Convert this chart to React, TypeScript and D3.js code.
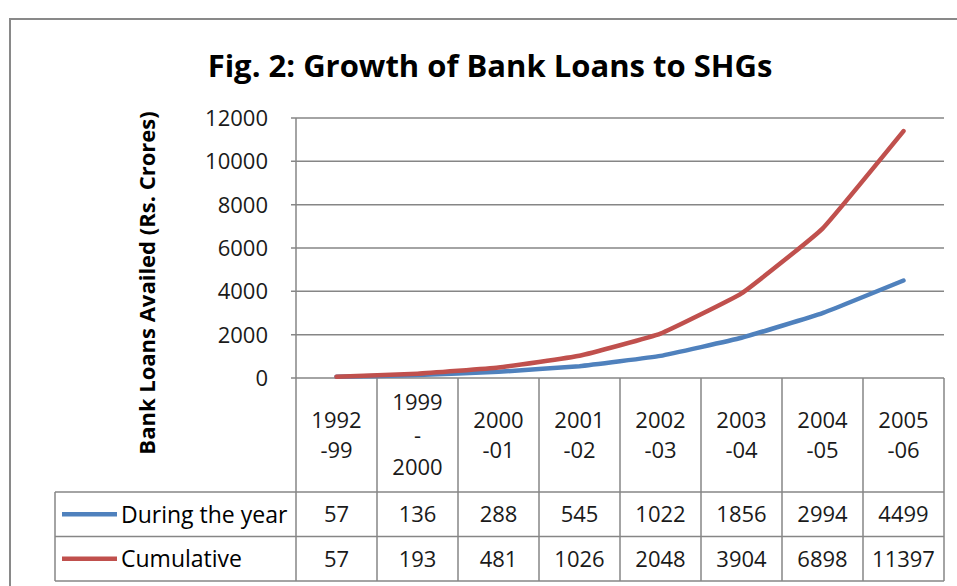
import React from "react";
import * as d3 from "d3";

const categories = ["1992-99", "1999-2000", "2000-01", "2001-02", "2002-03", "2003-04", "2004-05", "2005-06"];
const categoryLines = [
  ["1992", "-99"],
  ["1999", "-", "2000"],
  ["2000", "-01"],
  ["2001", "-02"],
  ["2002", "-03"],
  ["2003", "-04"],
  ["2004", "-05"],
  ["2005", "-06"],
];
const duringYear = [57, 136, 288, 545, 1022, 1856, 2994, 4499];
const cumulative = [57, 193, 481, 1026, 2048, 3904, 6898, 11397];
const yTicks = [0, 2000, 4000, 6000, 8000, 10000, 12000];
const seriesNames = ["During the year", "Cumulative"];
const seriesColors = ["#4F81BD", "#C0504D"];

const W = 957;
const H = 586;
const FONT = "'Open Sans', 'DejaVu Sans', sans-serif";

export default function App() {
  const plotLeft = 296;
  const plotRight = 944;
  const plotTop = 118;
  const plotBottom = 378;
  const tableLeft = 55;
  const headerBottom = 492;
  const row1Bottom = 536.5;
  const row2Bottom = 581;

  const x = d3.scaleBand<string>().domain(categories).range([plotLeft, plotRight]);
  const y = d3.scaleLinear().domain([0, 12000]).range([plotBottom, plotTop]);

  const line = d3
    .line<number>()
    .x((_, i) => (x(categories[i]) as number) + x.bandwidth() / 2)
    .y((d) => y(d))
    .curve(d3.curveCardinal.tension(0.7));

  const series = [duringYear, cumulative];
  const grid = "#868686";
  const rowsY = [headerBottom, row1Bottom, row2Bottom];

  return (
    <svg
      width={W}
      height={H}
      style={{ position: "absolute", left: 0, top: 0, background: "#fff" }}
      fontFamily={FONT}
    >
      <rect x={0} y={0} width={W} height={H} fill="#fff" />
      {/* outer chart border */}
      <rect x={10} y={19} width={W + 20} height={H + 20} fill="none" stroke="#898989" strokeWidth={2} />

      {/* title */}
      <text x={490} y={77} textAnchor="middle" fontSize={31} fontWeight="bold" fill="#000">
        Fig. 2: Growth of Bank Loans to SHGs
      </text>

      {/* y axis label */}
      <text
        transform={`translate(155,${283}) rotate(-90)`}
        textAnchor="middle"
        fontSize={22}
        fontWeight="bold"
        fill="#000"
      >
        Bank Loans Availed (Rs. Crores)
      </text>

      {/* gridlines and ticks */}
      {yTicks.map((t) => (
        <g key={t}>
          <line x1={plotLeft - 5} x2={plotRight} y1={y(t)} y2={y(t)} stroke={grid} strokeWidth={1.5} />
          <text x={268} y={y(t)} dy="0.36em" textAnchor="end" fontSize={22} fill="#1a1a1a">
            {t}
          </text>
        </g>
      ))}

      {/* vertical axis and table column lines */}
      <line x1={plotLeft} x2={plotLeft} y1={plotTop} y2={row2Bottom} stroke={grid} strokeWidth={1.5} />
      {categories.map((c) => {
        const xr = (x(c) as number) + x.bandwidth();
        return <line key={c} x1={xr} x2={xr} y1={plotBottom} y2={row2Bottom} stroke={grid} strokeWidth={1.5} />;
      })}
      <line x1={tableLeft} x2={tableLeft} y1={headerBottom} y2={row2Bottom} stroke={grid} strokeWidth={1.5} />
      {rowsY.map((ry) => (
        <line key={ry} x1={tableLeft} x2={plotRight} y1={ry} y2={ry} stroke={grid} strokeWidth={1.5} />
      ))}

      {/* category labels */}
      {categories.map((c, i) => {
        const cx = (x(c) as number) + x.bandwidth() / 2;
        const lines = categoryLines[i];
        const lh = lines.length === 3 ? 32.5 : 30;
        const mid = (plotBottom + headerBottom) / 2;
        const start = mid - ((lines.length - 1) * lh) / 2;
        return (
          <text key={c} textAnchor="middle" fontSize={22} fill="#1a1a1a">
            {lines.map((l, j) => (
              <tspan key={j} x={cx} y={start + j * lh} dy="0.36em">
                {l}
              </tspan>
            ))}
          </text>
        );
      })}

      {/* data rows */}
      {series.map((s, si) => {
        const top = rowsY[si];
        const bottom = rowsY[si + 1];
        const cy = (top + bottom) / 2;
        return (
          <g key={si}>
            <line x1={62} x2={117} y1={cy} y2={cy} stroke={seriesColors[si]} strokeWidth={4.5} />
            <text x={121} y={cy} dy="0.36em" fontSize={23} fill="#000">
              {seriesNames[si]}
            </text>
            {s.map((v, i) => (
              <text
                key={i}
                x={(x(categories[i]) as number) + x.bandwidth() / 2}
                y={cy}
                dy="0.36em"
                textAnchor="middle"
                fontSize={22}
                fill="#1a1a1a"
              >
                {v}
              </text>
            ))}
          </g>
        );
      })}

      {/* lines */}
      {series.map((s, si) => (
        <path
          key={si}
          d={line(s) || ""}
          fill="none"
          stroke={seriesColors[si]}
          strokeWidth={4.5}
          strokeLinecap="round"
          strokeLinejoin="round"
        />
      ))}
    </svg>
  );
}
